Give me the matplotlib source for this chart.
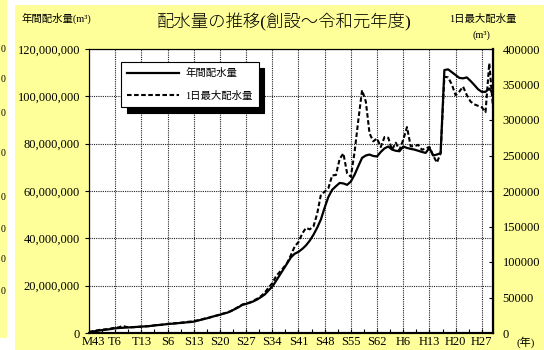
import numpy as np
import matplotlib.pyplot as plt
from matplotlib.patches import Rectangle
from matplotlib.ticker import FuncFormatter, FixedLocator
from matplotlib.transforms import ScaledTranslation

# fiscal years M43 (1910) .. H30 (2018)
years = list(range(1910, 2019))

# annual distributed water, million m3
annual_million = [
    0.3, 0.6, 0.9, 1.1, 1.3, 1.5, 1.7, 2.0, 2.1, 2.2,
    2.3, 2.4, 2.5, 2.6, 2.7, 2.8, 2.9, 3.1, 3.3, 3.4,
    3.6, 3.8, 3.9, 4.0, 4.2, 4.3, 4.5, 4.6, 4.8, 5.2,
    5.6, 6.0, 6.4, 6.9, 7.3, 7.7, 8.2, 8.6, 9.3, 10.1,
    10.9, 11.9, 12.3, 12.8, 13.4, 14.2, 15.2, 16.3, 18.0, 19.6,
    22.0, 24.5, 27.0, 29.5, 32.0, 33.5, 34.3, 35.5, 37.0, 39.0,
    41.5, 44.5, 48.0, 53.0, 57.5, 60.5, 62.0, 63.4, 63.2, 62.6,
    64.0, 66.9, 70.5, 74.0, 75.0, 75.4, 74.8, 74.6, 76.5, 78.0,
    78.8, 77.5, 77.0, 76.8, 78.8, 78.2, 77.8, 77.5, 77.0, 76.5,
    76.1, 78.2, 75.0, 75.4, 76.0, 111.1, 111.4, 110.2, 109.0, 107.8,
    107.6, 108.0, 106.5, 104.8, 103.0, 101.9, 101.9, 103.3, 101.2,
]

# maximum daily distributed water, thousand m3
daily_max_k = [
    1.5, 2.5, 3.5, 4.5, 5.0, 5.5, 6.5, 7.5, 8.0, 10.0,
    8.5, 8.0, 8.2, 8.5, 9.0, 9.3, 9.7, 10.3, 11.0, 11.5,
    12.0, 12.7, 13.3, 13.8, 14.3, 14.8, 15.5, 16.0, 16.7, 17.8,
    19.0, 20.5, 21.5, 23.0, 24.5, 26.0, 27.5, 29.0, 31.0, 34.0,
    37.0, 40.0, 41.5, 43.0, 45.5, 48.5, 52.0, 57.0, 64.0, 70.0,
    80.0, 86.0, 92.0, 99.0, 110.0, 122.0, 128.0, 140.0, 148.0, 146.0,
    150.0, 168.0, 195.0, 199.0, 204.0, 222.0, 222.5, 245.0, 253.0, 225.0,
    220.0, 255.0, 300.0, 342.0, 326.0, 281.0, 270.0, 274.0, 262.0, 276.0,
    275.0, 258.0, 268.0, 258.0, 272.0, 290.0, 263.0, 263.0, 265.0, 258.0,
    260.0, 262.0, 250.0, 240.0, 253.0, 361.0, 360.0, 350.0, 335.0, 340.0,
    347.0, 335.0, 326.0, 322.0, 320.0, 318.0, 311.0, 380.0, 318.0,
]

tick_years = [1910, 1917, 1924, 1931, 1938, 1945, 1952, 1959, 1966,
              1973, 1980, 1987, 1994, 2001, 2008, 2015]
tick_labels = ["M43", "T6", "T13", "S6", "S13", "S20", "S27", "S34", "S41",
               "S48", "S55", "S62", "H6", "H13", "H20", "H27"]

num_font = "Liberation Serif"
jp_font = ["Liberation Serif", "Noto Sans CJK JP"]
yellow = "#FFFF99"

annual = np.array(annual_million) * 1e6
daily_max = np.array(daily_max_k) * 1e3

fig = plt.figure(figsize=(5.44, 3.5), dpi=100, facecolor="white")

# background panels
fig.patches.append(Rectangle((15 / 544, 0), 1, 345 / 350, transform=fig.transFigure,
                             facecolor=yellow, edgecolor="none", zorder=-10))
fig.patches.append(Rectangle((0, 12 / 350), 7 / 544, 1, transform=fig.transFigure,
                             facecolor=yellow, edgecolor="none", zorder=-10))
# bits of the neighbouring chart on the left
for yy in [49, 80, 113, 153, 198, 229, 259, 292]:
    fig.text(3.5 / 544, 1 - yy / 350, "0", fontsize=7, family=num_font,
             ha="center", va="center")

ax = fig.add_axes([89 / 544, 17 / 350, 404 / 544, 284 / 350])
ax.set_facecolor("white")
ax2 = ax.twinx()

l1, = ax.plot(years, annual, color="black", lw=1.6, label="年間配水量")
l2, = ax2.plot(years, daily_max, color="black", lw=1.5, linestyle=(0, (2.2, 1.2)),
               label="1日最大配水量")

ax.set_xlim(1910, 2018)
ax.set_ylim(0, 120e6)
ax2.set_ylim(0, 400000)

ax.set_yticks(np.arange(0, 120e6 + 1, 20e6))
ax.yaxis.set_major_formatter(FuncFormatter(lambda v, p: f"{int(v):,}"))
ax2.set_yticks(np.arange(0, 400001, 50000))
ax2.yaxis.set_major_formatter(FuncFormatter(lambda v, p: f"{int(v)}"))

ax.set_xticks(tick_years)
ax.set_xticklabels(tick_labels)
ax.xaxis.set_minor_locator(FixedLocator([y + 3.5 for y in tick_years]))

ax.grid(True, which="major", color="#222222", linestyle=(0, (1, 1)), lw=0.8)
ax.set_axisbelow(True)

for a in (ax, ax2):
    for lab in a.get_xticklabels() + a.get_yticklabels():
        lab.set_family(num_font)
        lab.set_fontsize(9)

ax.tick_params(axis="y", direction="out", length=3, width=0.8, pad=3.5)
ax.tick_params(axis="x", which="both", direction="in", length=3, width=0.8, pad=2)
ax2.tick_params(axis="y", direction="in", length=3, width=0.8, pad=7)

# nudge the first year label off the "0" of the left axis
first = ax.get_xticklabels()[0]
first.set_transform(first.get_transform() + ScaledTranslation(4 / 100, 0, fig.dpi_scale_trans))

for a in (ax, ax2):
    for s in a.spines.values():
        s.set_color("black")
        s.set_linewidth(0.8)
ax.spines["bottom"].set_linewidth(1.5)
ax2.spines["bottom"].set_linewidth(1.5)
ax2.spines["right"].set_linewidth(1.6)

leg = ax2.legend(handles=[l1, l2], loc="upper left",
                 bbox_to_anchor=(32 / 404, 271 / 284),
                 prop={"family": jp_font, "size": 7.5},
                 frameon=True, fancybox=False, edgecolor="black",
                 framealpha=1, handlelength=5.0, handletextpad=0.55,
                 labelspacing=1.2, borderpad=0.6, borderaxespad=0,
                 shadow={"ox": 4, "oy": -4, "color": "black", "alpha": 1})
leg.get_frame().set_linewidth(0.8)

fig.text(284 / 544, 1 - 22 / 350, "配水量の推移(創設～令和元年度)",
         family=jp_font, fontsize=12.5, fontweight="light", ha="center", va="center")
fig.text(22 / 544, 1 - 18 / 350, "年間配水量(m³)", family=jp_font,
         fontsize=7.5, ha="left", va="center")
fig.text(483 / 544, 1 - 19 / 350, "1日最大配水量", family=jp_font,
         fontsize=7.5, ha="center", va="center")
fig.text(481 / 544, 1 - 35 / 350, "(m³)", family=jp_font,
         fontsize=7.5, ha="center", va="center")
fig.text(526 / 544, 1 - 342 / 350, "(年)", family=jp_font,
         fontsize=8, ha="center", va="center")

fig.savefig("out.png", dpi=100, facecolor=fig.get_facecolor())
